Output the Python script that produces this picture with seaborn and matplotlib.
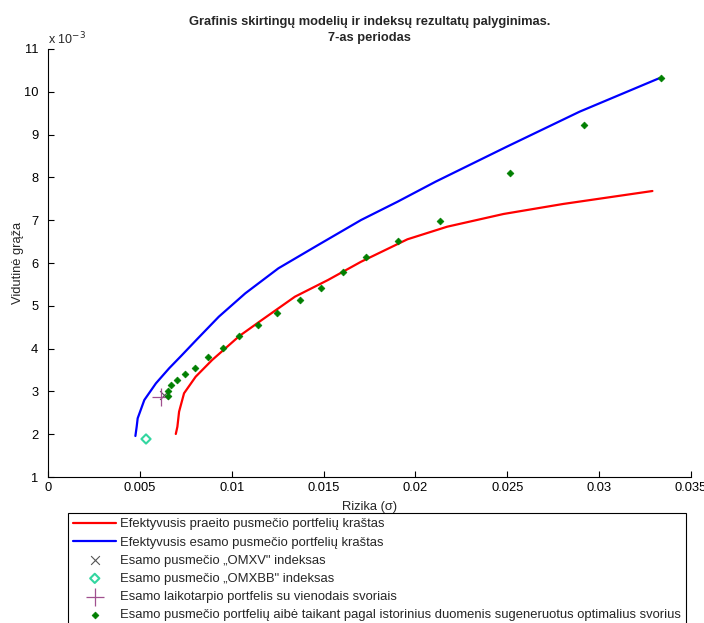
import matplotlib.pyplot as plt
import matplotlib.ticker as mticker
import pandas as pd
import seaborn as sns

sns.set_style("white")
plt.rcParams["font.family"] = ["Liberation Sans", "DejaVu Sans"]

# efficient frontier of the previous half-year (red), y in units of 1e-3
red_x = [0.006956, 0.007043, 0.007135, 0.007405, 0.008037, 0.008935, 0.010416, 0.011637,
         0.013442, 0.015242, 0.017042, 0.019566, 0.021728, 0.024792, 0.028035, 0.032900]
red_y = [2.005, 2.175, 2.526, 2.956, 3.343, 3.734, 4.294, 4.668,
         5.213, 5.603, 6.030, 6.554, 6.848, 7.145, 7.379, 7.682]

# efficient frontier of the current half-year (blue)
blue_x = [0.004757, 0.004827, 0.004881, 0.005243, 0.005875, 0.006594, 0.007250, 0.008124,
          0.009297, 0.010741, 0.012541, 0.014703, 0.017043, 0.019027, 0.021097, 0.024971,
          0.028933, 0.033257]
blue_y = [1.958, 2.175, 2.371, 2.799, 3.189, 3.540, 3.830, 4.224,
          4.745, 5.292, 5.876, 6.421, 7.005, 7.432, 7.900, 8.717,
          9.535, 10.315]

# portfolios with historically optimal weights (green)
green_x = [0.006557, 0.006557, 0.006686, 0.007010, 0.007459, 0.008000, 0.008686, 0.009529,
           0.010416, 0.011443, 0.012469, 0.013691, 0.014848, 0.016069, 0.017313, 0.019063,
           0.021312, 0.025133, 0.029187, 0.033387]
green_y = [2.900, 3.009, 3.143, 3.273, 3.407, 3.554, 3.797, 4.021,
           4.294, 4.544, 4.825, 5.143, 5.409, 5.783, 6.147, 6.507,
           6.988, 8.110, 9.224, 10.322]

omxv_x, omxv_y = [0.006324], [2.916]
omxbb_x, omxbb_y = [0.005335], [1.888]
equal_x, equal_y = [0.006178], [2.862]

labels = [
    "Efektyvusis praeito pusmečio portfelių kraštas",
    "Efektyvusis esamo pusmečio portfelių kraštas",
    "Esamo pusmečio „OMXV\" indeksas",
    "Esamo pusmečio „OMXBB\" indeksas",
    "Esamo laikotarpio portfelis su vienodais svoriais",
    "Esamo pusmečio portfelių aibė taikant pagal istorinius duomenis sugeneruotus optimalius svorius",
]

fig = plt.figure(figsize=(7.04, 6.23), dpi=100)
ax = fig.add_axes([48 / 704, 1 - 477 / 623, (691 - 48) / 704, (477 - 49) / 623])

red = pd.DataFrame({"x": red_x, "y": red_y})
blue = pd.DataFrame({"x": blue_x, "y": blue_y})
sns.lineplot(data=red, x="x", y="y", sort=False, color="red", lw=1.6, label=labels[0], ax=ax)
sns.lineplot(data=blue, x="x", y="y", sort=False, color="blue", lw=1.6, label=labels[1], ax=ax)
sns.scatterplot(x=omxv_x, y=omxv_y, marker="x", color="#555555", s=40, linewidth=0.8,
                label=labels[2], ax=ax, zorder=5)
sns.scatterplot(x=omxbb_x, y=omxbb_y, marker="D", facecolor="none", edgecolor="#33d6a0",
                s=22, linewidth=1.5, label=labels[3], ax=ax, zorder=5)
sns.scatterplot(x=equal_x, y=equal_y, marker="+", color="#a0508f", s=150, linewidth=0.9,
                label=labels[4], ax=ax, zorder=5)
sns.scatterplot(x=green_x, y=green_y, marker="D", color="#007f00", edgecolor="#007f00",
                s=12, linewidth=0.5, label=labels[5], ax=ax, zorder=6)

ax.set_xlim(0, 0.035)
ax.set_ylim(1, 11)
ax.set_xticks([0, 0.005, 0.01, 0.015, 0.02, 0.025, 0.03, 0.035])
ax.set_yticks(range(1, 12))
ax.xaxis.set_major_formatter(mticker.FuncFormatter(lambda v, p: "0" if v == 0 else f"{v:g}"))
ax.tick_params(direction="in", length=4, width=0.8, labelsize=9.3, colors="black",
               left=True, bottom=True)
ax.tick_params(axis="y", pad=7)
for s in ["top", "right"]:
    ax.spines[s].set_visible(False)
for s in ["left", "bottom"]:
    ax.spines[s].set_color("black")
    ax.spines[s].set_linewidth(0.8)

ax.set_xlabel("Rizika (σ)", fontsize=9.3, labelpad=5)
ax.set_ylabel("Vidutinė grąža", fontsize=9.3, labelpad=0)
ax.set_title("Grafinis skirtingų modelių ir indeksų rezultatų palyginimas.\n7-as periodas",
             fontsize=9.3, fontweight="bold", pad=6, linespacing=1.45)
ax.text(0.0, 1.005, r"x 10$^{-3}$", transform=ax.transAxes, fontsize=9, va="bottom", ha="left")

ax.legend(loc="upper left", bbox_to_anchor=(68 / 704, 1 - 513 / 623),
          bbox_transform=fig.transFigure, fontsize=9.4, frameon=True, fancybox=False,
          edgecolor="black", framealpha=1, handlelength=3.3, labelspacing=0.46,
          borderpad=0.4, borderaxespad=0, handletextpad=0.3)
ax.get_legend().get_frame().set_linewidth(0.8)

plt.savefig("out.png", dpi=100)
